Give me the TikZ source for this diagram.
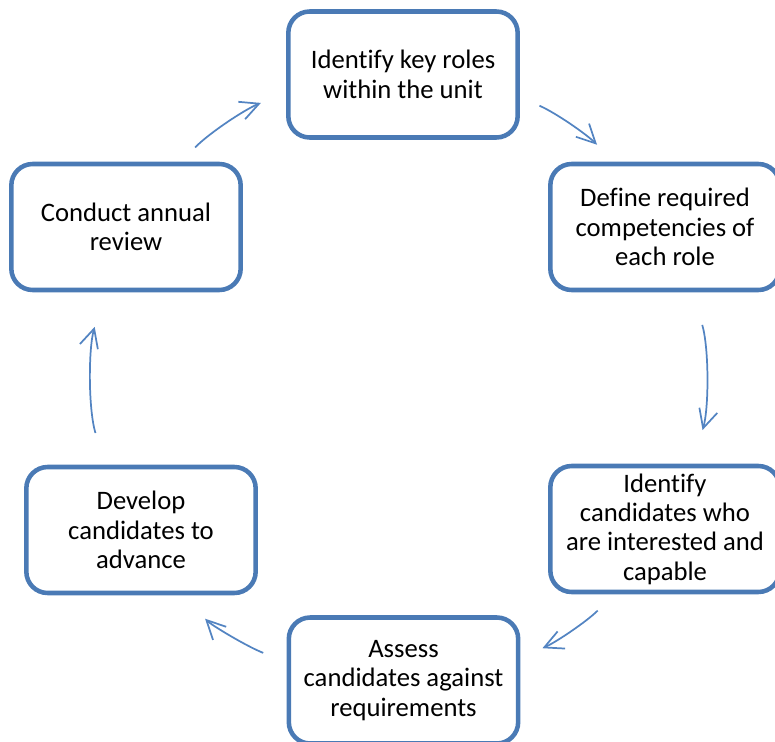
\documentclass[tikz,border=0pt]{standalone}
\usepackage{fontspec}
\setmainfont{Carlito}[Ligatures=NoCommon]
\usetikzlibrary{arrows.meta,positioning}
\definecolor{boxblue}{HTML}{4A7AB5}
\definecolor{arrowblue}{HTML}{5384C2}
\tikzstyle{stage}=[draw=boxblue,line width=3.4pt,rounded corners=16pt,fill=white,
  minimum width=172pt,minimum height=94.5pt,align=center,inner sep=2pt,
  font=\fontsize{20}{22}\selectfont]
\tikzstyle{flow}=[-{Straight Barb[length=14pt,width=14pt]}, arrowblue, line width=1.3pt, looseness=0.87]

\begin{document}
\begin{tikzpicture}[x=0.75pt, y=0.75pt]
  \useasboundingbox (0,0) rectangle (775,-742);

  \node[stage] (roles) at (403,-74.5) {Identify key roles\\within the unit};
  \node[stage] (compet) at (665,-227) {Define required\\competencies of\\each role};
  \node[stage] (cand) at (665,-529) {Identify\\candidates who\\are interested and\\capable};
  \node[stage] (assess) at (403.5,-680.5) {Assess\\candidates against\\requirements};
  \node[stage] (develop) at (141,-530) {Develop\\candidates to\\advance};
  \node[stage] (review) at (126,-227) {Conduct annual\\review};

  \draw[flow, shorten <=15.2pt, shorten >=20.3pt] (review.50) to[out=45, in=201.5] (roles.189);
  \draw[flow, shorten <=16pt, shorten >=18pt] (roles.-11) to[out=-23.5, in=135] (compet.128);
  \draw[flow, shorten <=25.5pt, shorten >=26.3pt] (compet.-67) to[out=-73.7, in=73.7] (cand.67);
  \draw[flow, shorten <=17.3pt, shorten >=18pt] (cand.-128) to[out=-135, in=23.5] (assess.11);
  \draw[flow, shorten <=18.8pt, shorten >=24.8pt] (assess.171.5) to[out=158.7, in=-45.2] (develop.-58.4);
  \draw[flow, shorten <=24.8pt, shorten >=27pt] (develop.119) to[out=106.5, in=253.7] (review.-108.7);
\end{tikzpicture}
\end{document}
